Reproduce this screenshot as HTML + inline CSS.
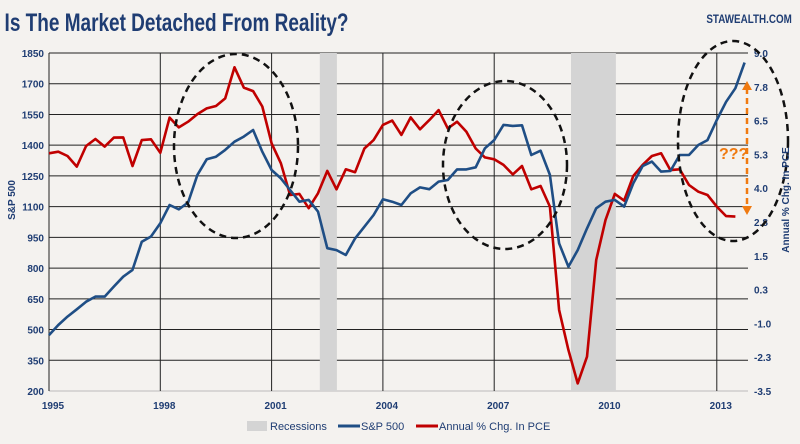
<!DOCTYPE html>
<html><head><meta charset="utf-8">
<style>
body{margin:0;background:#fff;}
#wrap{position:relative;width:800px;height:444px;background:#f4f2ef;overflow:hidden;font-family:"Liberation Sans",sans-serif;}
svg text{font-family:"Liberation Sans",sans-serif;}
</style></head>
<body>
<div id="wrap">
<svg id="chart" width="800" height="444">
  <text x="6" y="31" font-size="25" font-weight="bold" fill="#1f3d73" transform="scale(0.76,1)">Is The Market Detached From Reality?</text>
  <text x="790" y="23" font-size="12" font-weight="bold" fill="#1f3d73" text-anchor="end" transform="translate(144,0) scale(0.82,1)">STAWEALTH.COM</text>
  <g id="grid"></g>
  <g id="rec"></g>
  <g id="lines"></g>
  <g id="axes"></g>
  <ellipse cx="236" cy="146" rx="62" ry="92" fill="none" stroke="#111" stroke-width="2.5" stroke-dasharray="7,5"/>
  <ellipse cx="505" cy="165" rx="62" ry="84" fill="none" stroke="#111" stroke-width="2.5" stroke-dasharray="7,5"/>
  <ellipse cx="733" cy="141" rx="55" ry="100" fill="none" stroke="#111" stroke-width="2.5" stroke-dasharray="7,5"/>
  <g>
    <line x1="747" y1="88" x2="747" y2="208" stroke="#f07a10" stroke-width="2.5" stroke-dasharray="6,4"/>
    <polygon points="742,90 752,90 747,81" fill="#f07a10"/>
    <polygon points="742,206 752,206 747,215" fill="#f07a10"/>
  </g>
  <text x="719" y="159" font-size="16" font-weight="bold" fill="#f07a10">???</text>
  <text transform="translate(15,200) rotate(-90)" font-size="10" font-weight="bold" fill="#1f3d73" text-anchor="middle">S&amp;P 500</text>
  <text transform="translate(789,200) rotate(-90)" font-size="10" font-weight="bold" fill="#1f3d73" text-anchor="middle">Annual % Chg. In PCE</text>
  <g>
    <rect x="247" y="421" width="20" height="10" fill="#d4d4d4"/>
    <text x="270" y="430" font-size="11" fill="#1f3d73">Recessions</text>
    <line x1="338" y1="426" x2="360" y2="426" stroke="#1f4e85" stroke-width="3"/>
    <text x="361" y="430" font-size="11" fill="#1f3d73">S&amp;P 500</text>
    <line x1="416" y1="426" x2="438" y2="426" stroke="#c00000" stroke-width="3"/>
    <text x="439" y="430" font-size="11" fill="#1f3d73">Annual % Chg. In PCE</text>
  </g>
</svg>
</div>
<script>
const startYear = 1995;
const spx = [473,522,563,599,636,661,661,710,758,791,929,954,1019,1108,1087,1120,1255,1331,1344,1377,1417,1442,1474,1368,1279,1238,1181,1124,1133,1076,897,888,864,945,1002,1059,1136,1124,
1108,1165,1194,1185,1222,1230,1282,1282,1292,1385,1425,1499,1494,1497,1352,1373,1255,921,807,888,994,1092,1124,1133,1100,1214,1298,1320,1271,1274,1352,1352,1401,1425,1523,1612,1678,1803];
const pce = [5.29,5.35,5.19,4.80,5.56,5.82,5.54,5.87,5.88,4.82,5.78,5.81,5.31,6.61,6.25,6.46,6.74,6.95,7.04,7.32,8.47,7.72,7.59,7.02,5.66,4.92,3.75,3.79,3.26,3.81,4.64,3.96,4.70,4.59,5.47,5.78,6.34,6.50,
5.97,6.62,6.18,6.52,6.89,6.21,6.46,6.09,5.47,5.14,5.07,4.86,4.51,4.82,3.96,4.08,3.32,-0.50,-1.98,-3.22,-2.23,1.34,2.82,3.79,3.54,4.45,4.86,5.19,5.29,4.67,4.70,4.12,3.87,3.75,3.32,2.97,2.95];
const recessions = [[2002.3,2002.76],[2009.07,2010.28]];
const leftTicks = [200,350,500,650,800,950,1100,1250,1400,1550,1700,1850];
const rightTicks = ["9.0","7.8","6.5","5.3","4.0","2.8","1.5","0.3","-1.0","-2.3","-3.5"];
const xTicks = [1995,1998,2001,2004,2007,2010,2013];

const X0=49,X1=748,Y0=53,Y1=391,PXY=37.1;
const NS='http://www.w3.org/2000/svg';
const xs = yr => X0 + (yr-1995)*PXY;
const xq = i => xs(startYear + i*0.25);
const yl = v => Y1 - (v-200)/(1850-200)*(Y1-Y0);
const yr_ = v => Y1 - (v+3.5)/12.5*(Y1-Y0);
function mk(tag,attrs,parent){const e=document.createElementNS(NS,tag);for(const k in attrs)e.setAttribute(k,attrs[k]);parent.appendChild(e);return e;}
const grid=document.getElementById('grid'),rec=document.getElementById('rec'),lines=document.getElementById('lines'),axes=document.getElementById('axes');

leftTicks.forEach((t,i)=>{
  const y=yl(t);
  const ln=mk('line',{x1:X0,x2:X1,y1:y,y2:y,stroke:i===0?'#bbb':'#222','stroke-width':1},grid);
  
  
  const tx=mk('text',{x:44,y:y+4,'font-size':10,'font-weight':'bold',fill:'#1f3d73','text-anchor':'end'},axes);
  tx.textContent=t;
  
  
});
rightTicks.forEach((t,i)=>{
  const y=Y0+i*(Y1-Y0)/10;
  const tx=mk('text',{x:754,y:y+4,'font-size':10,'font-weight':'bold',fill:'#1f3d73'},axes);
  tx.textContent=t;
  
  
});
xTicks.forEach(t=>{
  const x=xs(t);
  const ln=mk('line',{x1:x,x2:x,y1:Y0,y2:Y1,stroke:'#222','stroke-width':1},grid);
  
  
  const tx=mk('text',{x:x+4,y:409,'font-size':10,'font-weight':'bold',fill:'#1f3d73','text-anchor':'middle'},axes);
  tx.textContent=t;
  
  
});
recessions.forEach(r=>{
  const b=mk('rect',{x:xs(r[0]),y:Y0,width:xs(r[1])-xs(r[0]),height:Y1-Y0,fill:'#d4d4d4'},rec);
  
  
});
function path(arr,yf,color,name){
  const d=arr.map((v,i)=>(i?'L':'M')+xq(i).toFixed(1)+','+yf(v).toFixed(1)).join('');
  const p=mk('path',{d:d,fill:'none',stroke:color,'stroke-width':2.6,'stroke-linejoin':'round'},lines);
  
  
}
path(pce,yr_,'#c00000','pce-line');
path(spx,yl,'#1f4e85','sp500-line');
</script>
</body></html>
